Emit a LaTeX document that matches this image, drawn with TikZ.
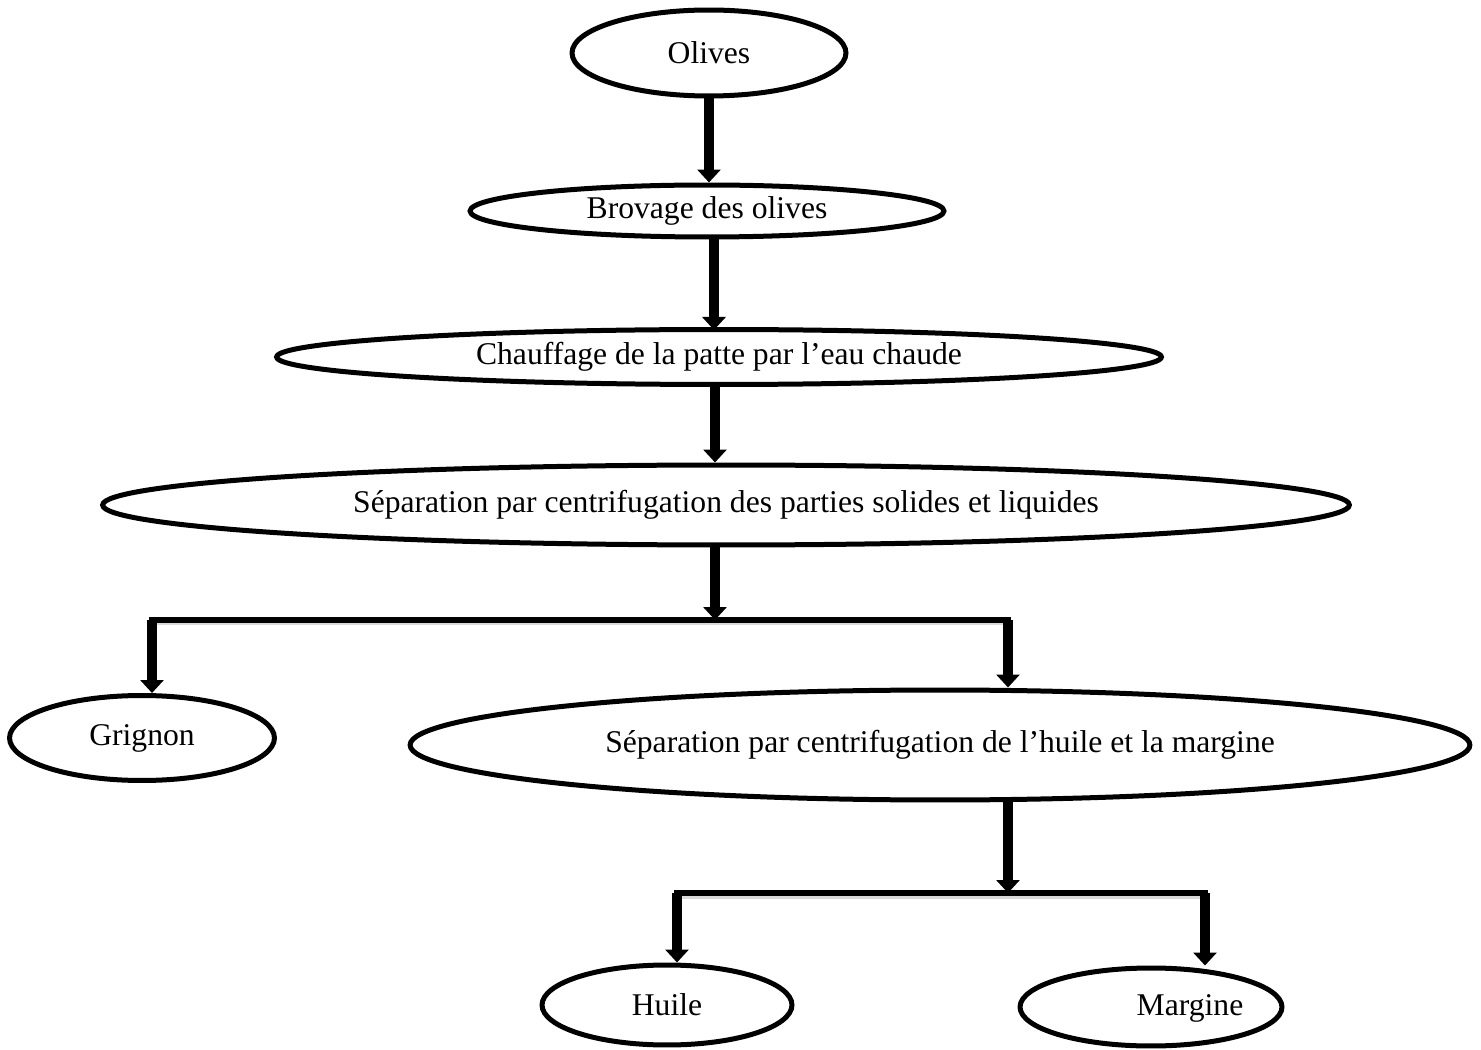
\documentclass[tikz,border=0pt]{standalone}
\usepackage{fontspec}
\setmainfont{Liberation Serif}
\usetikzlibrary{shapes.geometric,arrows.meta,positioning,calc}

\begin{document}
\begin{tikzpicture}[x=0.02cm, y=-0.02cm,
    stepnode/.style={ellipse, draw=black, line width=0.1cm, inner sep=0pt, font=\fontsize{18}{21}\selectfont},
    flow/.style={line width=0.21cm, -{Triangle[width=0.46cm, length=0.26cm]}},
    branch/.style={line width=0.12cm, line cap=rect,
        preaction={draw=black!15, line width=0.12cm, transform canvas={yshift=-0.05cm}}},
    txt/.style={font=\fontsize{18}{21}\selectfont}
]
\useasboundingbox (0,0) rectangle (1481,1050);

% Main column
\node[stepnode, minimum width=5.48cm, minimum height=1.72cm] (olives) at (709,53) {Olives};
\node[stepnode, minimum width=9.48cm, minimum height=1.04cm] (broyage) at (707,211) {Brovage des olives};
\node[stepnode, minimum width=17.7cm, minimum height=1.1cm] (chauffage) at (719,357) {Chauffage de la patte par l’eau chaude};
\node[stepnode, minimum width=24.94cm, minimum height=1.6cm] (sep1) at (726,505) {Séparation par centrifugation des parties solides et liquides};

% Second level
\node[stepnode, minimum width=5.3cm, minimum height=1.7cm] (grignon) at (142,738) {Grignon};
\node[stepnode, minimum width=21.2cm, minimum height=2.2cm] (sep2) at (940,745) {Séparation par centrifugation de l’huile et la margine};

% Products
\node[stepnode, minimum width=5cm, minimum height=1.6cm] (huile) at (667,1005) {Huile};
\node[stepnode, minimum width=5.24cm, minimum height=1.56cm] (margine) at (1151,1007) {};
\node[txt] (margtxt) at (1190,1008) {Margine};

% Junctions
\coordinate (j1) at (715,620);
\coordinate (j1l) at (152,620);
\coordinate (j1r) at (1008,620);
\coordinate (j2) at (1008,893);
\coordinate (j2l) at (677,893);
\coordinate (j2r) at (1205,893);

% Arrows down the column
\draw[flow] (olives.south) -- (olives.south |- broyage.north);
\draw[flow] (broyage.south -| 714,0) -- (714,330);
\draw[flow] (chauffage.south -| j1) -- (sep1.north -| j1);
\draw[flow] (sep1.south -| j1) -- (j1);

% First split
\draw[branch] (j1l) -- (j1r);
\draw[flow] (j1l) -- (j1l |- grignon.north);
\draw[flow] (j1r) -- (j1r |- sep2.north);

% Second split
\draw[flow] (sep2.south -| j2) -- (j2);
\draw[branch] (j2l) -- (j2r);
\draw[flow] (j2l) -- (j2l |- huile.north);
\draw[flow] (j2r) -- (j2r |- margine.north);

\end{tikzpicture}
\end{document}
